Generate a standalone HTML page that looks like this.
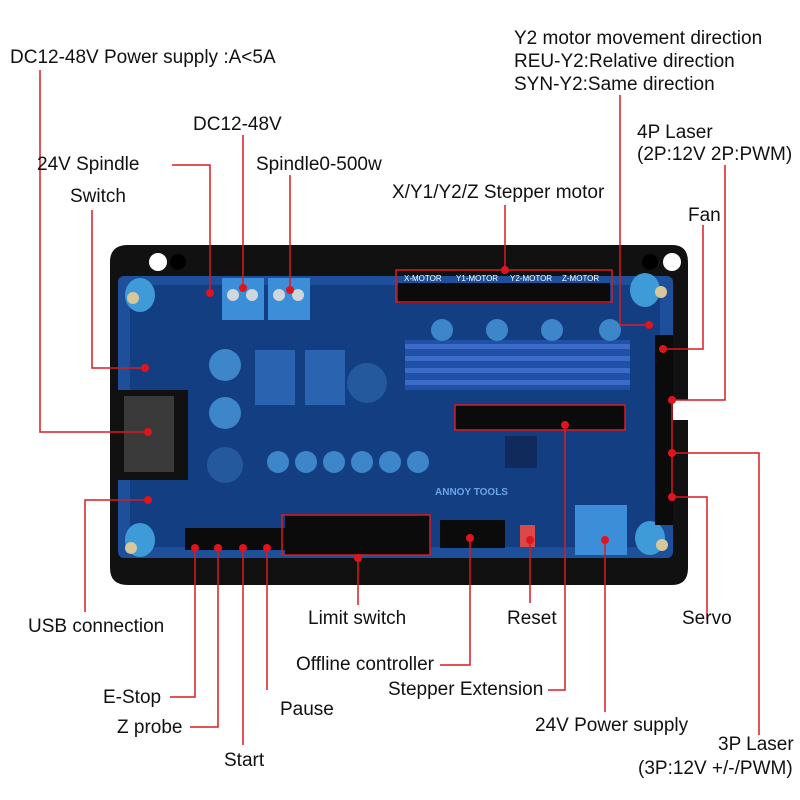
<!DOCTYPE html>
<html><head><meta charset="utf-8"><style>
html,body{margin:0;padding:0;background:#fff;}
svg{display:block;}
text{font-family:"Liberation Sans",Arial,sans-serif;font-size:19px;fill:#111;}
</style></head><body>
<svg width="800" height="800" viewBox="0 0 800 800" xmlns="http://www.w3.org/2000/svg">
<path d="M128 245 H672 Q688 245 688 262 V400 H672 V420 H688 V568 Q688 585 672 585 H128 Q110 585 110 568 V262 Q110 245 128 245Z" fill="#111"/>
<circle cx="158" cy="262" r="9" fill="#fff"/><circle cx="672" cy="262" r="9" fill="#fff"/>
<circle cx="178" cy="262" r="8" fill="#000"/><circle cx="650" cy="262" r="8" fill="#000"/>
<rect x="118" y="276" width="555" height="282" rx="6" fill="#1d4f9a"/>
<rect x="130" y="285" width="530" height="262" fill="#143e82"/>
<rect x="405" y="340" width="225" height="50" fill="#2150a8"/>
<g fill="#3c6cc8"><rect x="405" y="344" width="225" height="5"/><rect x="405" y="356" width="225" height="5"/><rect x="405" y="368" width="225" height="5"/><rect x="405" y="380" width="225" height="5"/></g>
<rect x="398" y="283" width="212" height="20" fill="#0b0b0b"/>
<rect x="396" y="270" width="216" height="32" fill="none" stroke="#d81b22" stroke-width="1.5"/>
<text x="404" y="281" style="font-size:8px;fill:#fff">X-MOTOR</text><text x="456" y="281" style="font-size:8px;fill:#fff">Y1-MOTOR</text><text x="510" y="281" style="font-size:8px;fill:#fff">Y2-MOTOR</text><text x="562" y="281" style="font-size:8px;fill:#fff">Z-MOTOR</text>
<g fill="#3d86c9"><circle cx="442" cy="330" r="11"/><circle cx="497" cy="330" r="11"/><circle cx="552" cy="330" r="11"/><circle cx="610" cy="330" r="11"/>
<circle cx="225" cy="365" r="16"/><circle cx="225" cy="413" r="16"/><circle cx="225" cy="465" r="18" fill="#24599e"/>
<circle cx="278" cy="462" r="11"/><circle cx="306" cy="462" r="11"/><circle cx="334" cy="462" r="11"/><circle cx="362" cy="462" r="11"/><circle cx="390" cy="462" r="11"/><circle cx="418" cy="462" r="11"/></g>
<circle cx="367" cy="383" r="20" fill="#24599e"/>
<rect x="255" y="350" width="40" height="55" fill="#2a63b0"/><rect x="305" y="350" width="40" height="55" fill="#2a63b0"/>
<rect x="222" y="278" width="42" height="42" fill="#3d8ed8"/><rect x="268" y="278" width="42" height="42" fill="#3d8ed8"/>
<g fill="#cfd6dc"><circle cx="233" cy="295" r="6"/><circle cx="252" cy="295" r="6"/><circle cx="279" cy="295" r="6"/><circle cx="298" cy="295" r="6"/></g>
<rect x="118" y="390" width="70" height="90" fill="#111"/>
<rect x="124" y="396" width="50" height="76" fill="#3a3a3a"/>
<g fill="#3f9ad8"><ellipse cx="140" cy="295" rx="15" ry="17"/><ellipse cx="645" cy="290" rx="15" ry="17"/><ellipse cx="140" cy="540" rx="15" ry="17"/><ellipse cx="650" cy="538" rx="15" ry="17"/></g>
<g fill="#d8c79a"><circle cx="133" cy="298" r="6"/><circle cx="661" cy="292" r="6"/><circle cx="131" cy="548" r="6"/><circle cx="662" cy="545" r="6"/></g>
<rect x="185" y="528" width="100" height="22" fill="#0b0b0b"/>
<rect x="285" y="515" width="145" height="40" fill="#0b0b0b"/>
<rect x="440" y="520" width="65" height="28" fill="#0b0b0b"/>
<rect x="282" y="515" width="148" height="40" fill="none" stroke="#d81b22" stroke-width="1.5"/>
<rect x="655" y="335" width="18" height="190" fill="#0b0b0b"/>
<rect x="455" y="405" width="170" height="25" fill="#0b0b0b"/>
<rect x="455" y="405" width="170" height="25" fill="none" stroke="#d81b22" stroke-width="1.5"/>
<rect x="575" y="505" width="52" height="50" fill="#3d8ed8"/>
<rect x="520" y="525" width="15" height="22" fill="#d84a4a"/>
<rect x="505" y="436" width="32" height="32" fill="#102a5c"/>
<text x="435" y="495" style="font-size:10px;fill:#6aa3e6;font-weight:bold">ANNOY TOOLS</text>

<g stroke="#d81b22" stroke-width="1.5" fill="none">
<polyline points="40,70 40,432 148,432"/>
<polyline points="243,135 243,288"/>
<polyline points="290,175 290,290"/>
<polyline points="172,165 210,165 210,293"/>
<polyline points="92,210 92,368 145,368"/>
<polyline points="505,205 505,270"/>
<polyline points="620,95 620,325 649,325"/>
<polyline points="725,165 725,400 672,400"/>
<polyline points="703,225 703,349 663,349"/>
<polyline points="707,620 707,497 672,497"/>
<polyline points="759,735 759,453 672,453"/>
<polyline points="85,612 85,500 148,500"/>
<polyline points="170,697 195,697 195,548"/>
<polyline points="190,727 218,727 218,548"/>
<polyline points="243,745 243,548"/>
<polyline points="267,690 267,548"/>
<polyline points="358,605 358,558"/>
<polyline points="440,665 470,665 470,538"/>
<polyline points="548,690 565,690 565,425"/>
<polyline points="530,603 530,540"/>
<polyline points="605,712 605,540"/>
<polyline points="672,400 672,495"/>
</g>
<g fill="#e0141c">
<circle cx="148" cy="432" r="4"/><circle cx="243" cy="288" r="4"/><circle cx="290" cy="290" r="4"/><circle cx="210" cy="293" r="4"/><circle cx="145" cy="368" r="4"/><circle cx="505" cy="270" r="4"/><circle cx="649" cy="325" r="4"/><circle cx="672" cy="400" r="4"/><circle cx="663" cy="349" r="4"/><circle cx="672" cy="497" r="4"/><circle cx="672" cy="453" r="4"/><circle cx="148" cy="500" r="4"/><circle cx="195" cy="548" r="4"/><circle cx="218" cy="548" r="4"/><circle cx="243" cy="548" r="4"/><circle cx="267" cy="548" r="4"/><circle cx="358" cy="558" r="4"/><circle cx="470" cy="538" r="4"/><circle cx="565" cy="425" r="4"/><circle cx="530" cy="540" r="4"/><circle cx="605" cy="540" r="4"/>
</g>

<text x="10" y="63">DC12-48V Power supply :A&lt;5A</text>
<text x="193" y="130">DC12-48V</text>
<text x="37" y="170">24V Spindle</text>
<text x="256" y="170">Spindle0-500w</text>
<text x="70" y="202">Switch</text>
<text x="392" y="198">X/Y1/Y2/Z Stepper motor</text>
<text x="514" y="44">Y2 motor movement direction</text>
<text x="514" y="67">REU-Y2:Relative direction</text>
<text x="514" y="90">SYN-Y2:Same direction</text>
<text x="637" y="138">4P Laser</text>
<text x="637" y="160">(2P:12V 2P:PWM)</text>
<text x="688" y="221">Fan</text>
<text x="28" y="632">USB connection</text>
<text x="308" y="624">Limit switch</text>
<text x="507" y="624">Reset</text>
<text x="682" y="624">Servo</text>
<text x="296" y="670">Offline controller</text>
<text x="388" y="695">Stepper Extension</text>
<text x="103" y="703">E-Stop</text>
<text x="280" y="715">Pause</text>
<text x="535" y="731">24V Power supply</text>
<text x="117" y="733">Z probe</text>
<text x="718" y="750">3P Laser</text>
<text x="638" y="774">(3P:12V +/-/PWM)</text>
<text x="224" y="766">Start</text>
</svg>
</body></html>
